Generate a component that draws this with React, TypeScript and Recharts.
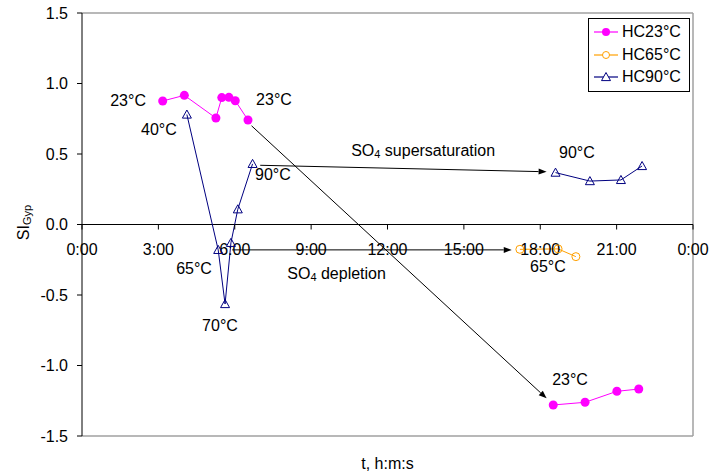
import React from 'react';
import { LineChart, Line, XAxis, YAxis, ReferenceLine, ReferenceDot } from 'recharts';

// time in hours, SI_Gyp values
const hc23Time = [3.17, 4.02, 5.26, 5.49, 5.77, 6.02, 6.52, 12, 18.51, 19.76, 21.01, 21.87];
const hc23Val = [0.876, 0.916, 0.755, 0.9, 0.902, 0.878, 0.741, null, -1.28, -1.261, -1.183, -1.167];
const hc65Time = [17.2, 18.7, 19.4];
const hc65Val = [-0.176, -0.173, -0.228];
const hc90Time = [4.12, 5.35, 5.62, 5.85, 6.12, 6.7, 12, 18.6, 19.95, 21.17, 22.0];
const hc90Val = [0.78, -0.18, -0.564, -0.13, 0.108, 0.43, null, 0.368, 0.308, 0.316, 0.415];

const xTicks = [0, 3, 6, 9, 12, 15, 18, 21, 24];
const xTickLabels = ['0:00', '3:00', '6:00', '9:00', '12:00', '15:00', '18:00', '21:00', '0:00'];
const yTicks = [-1.5, -1.0, -0.5, 0, 0.5, 1.0, 1.5];

const arrows = [
  { from: [6.66, 0.7], to: [18.25, -1.233] },
  { from: [7.0, 0.42], to: [18.25, 0.374] },
  { from: [5.9, -0.18], to: [16.88, -0.18] },
];

const tempLabels = [
  { t: 1.81, v: 0.876, text: '23°C' },
  { t: 3.02, v: 0.677, text: '40°C' },
  { t: 7.54, v: 0.883, text: '23°C' },
  { t: 7.5, v: 0.352, text: '90°C' },
  { t: 4.4, v: -0.309, text: '65°C' },
  { t: 5.42, v: -0.716, text: '70°C' },
  { t: 19.44, v: 0.514, text: '90°C' },
  { t: 18.3, v: -0.3, text: '65°C' },
  { t: 19.17, v: -1.1, text: '23°C' },
];

const noteLabels = [
  { t: 13.4, v: 0.528, main: 'SO', sub: '4', rest: ' supersaturation' },
  { t: 10.0, v: -0.344, main: 'SO', sub: '4', rest: ' depletion' },
];

const toRows = (ts: number[], vs: (number | null)[]) => ts.map((t, i) => ({ t, v: vs[i] }));
const hc23 = toRows(hc23Time, hc23Val);
const hc65 = toRows(hc65Time, hc65Val);
const hc90 = toRows(hc90Time, hc90Val);

const FONT = '"Liberation Sans", Arial, sans-serif';
const C23 = '#ff00ff';
const C65 = '#ffa000';
const C90 = '#000080';

const Triangle = (props: any) => {
  const { cx, cy, stroke } = props;
  if (cx == null || cy == null || props.payload?.v == null) return null;
  const h = 4.5;
  return (
    <path
      key={`tri-${cx}-${cy}`}
      d={`M${cx},${cy - h} L${cx + h},${cy + h * 0.8} L${cx - h},${cy + h * 0.8} Z`}
      fill="none"
      stroke={stroke}
      strokeWidth={1}
    />
  );
};

const legendItems = [
  { name: 'HC23°C', color: C23, marker: 'filled' },
  { name: 'HC65°C', color: C65, marker: 'open' },
  { name: 'HC90°C', color: C90, marker: 'tri' },
];

const LegendBox = () => (
  <div
    style={{
      position: 'absolute',
      left: 588,
      top: 18,
      border: '1px solid #000',
      background: '#fff',
      padding: '2px 4px 2px 5px',
      fontFamily: FONT,
      fontSize: 16,
      color: '#000',
      width: 91,
      lineHeight: 'normal',
    }}
  >
    {legendItems.map((it) => (
      <div key={it.name} style={{ display: 'flex', alignItems: 'center', height: 22.5 }}>
        <svg width={24} height={14} style={{ marginRight: 4 }}>
          <line x1={0} y1={7} x2={24} y2={7} stroke={it.color} strokeWidth={1.2} />
          {it.marker === 'filled' && <circle cx={12} cy={7} r={4} fill={it.color} />}
          {it.marker === 'open' && <circle cx={12} cy={7} r={3.5} fill="#fff" stroke={it.color} />}
          {it.marker === 'tri' && (
            <path d="M12,2.5 L16.5,10.6 L7.5,10.6 Z" fill="#fff" stroke={it.color} strokeWidth={1} />
          )}
        </svg>
        <span>{it.name}</span>
      </div>
    ))}
  </div>
);

const ArrowShape = (props: any) => {
  const { x1, y1, x2, y2 } = props;
  if ([x1, y1, x2, y2].some((n) => n == null || isNaN(n))) return null;
  const ang = Math.atan2(y2 - y1, x2 - x1);
  const L = 8;
  const W = 3;
  const bx = x2 - L * Math.cos(ang);
  const by = y2 - L * Math.sin(ang);
  const px = -Math.sin(ang) * W;
  const py = Math.cos(ang) * W;
  return (
    <g>
      <line x1={x1} y1={y1} x2={bx} y2={by} stroke="#000" strokeWidth={1} />
      <path d={`M${x2},${y2} L${bx + px},${by + py} L${bx - px},${by - py} Z`} fill="#000" />
    </g>
  );
};

const YLabel = (props: any) => {
  const { viewBox } = props;
  const cx = 23;
  const cy = viewBox.y + viewBox.height / 2 - 2;
  return (
    <text
      x={cx}
      y={cy}
      transform={`rotate(-90, ${cx}, ${cy})`}
      textAnchor="middle"
      dominantBaseline="central"
      fontFamily={FONT}
      fontSize={16}
      fill="#000"
    >
      SI
      <tspan fontSize={11} dy={4}>Gyp</tspan>
    </text>
  );
};

export default function App() {
  return (
    <div style={{ position: 'absolute', left: 0, top: 0, width: 709, height: 475, background: '#fff' }}>
      <LineChart
        width={709}
        height={475}
        margin={{ top: 13, right: 16, bottom: 0, left: 0 }}
        style={{ fontFamily: FONT }}
      >
        <XAxis
          type="number"
          dataKey="t"
          domain={[0, 24]}
          ticks={xTicks}
          tick={false}
          tickLine={false}
          axisLine={false}
          height={39}
          allowDataOverflow
          label={{ value: 't, h:m:s', position: 'insideBottom', offset: 6, fill: '#000', fontSize: 16, fontFamily: FONT }}
        />
        <YAxis
          type="number"
          domain={[-1.5, 1.5]}
          ticks={yTicks}
          width={82}
          tickSize={5}
          tickMargin={9}
          axisLine={{ stroke: '#000' }}
          tickLine={{ stroke: '#000' }}
          tick={{ fill: '#000', fontSize: 16, fontFamily: FONT }}
          tickFormatter={(v: number) => v.toFixed(1)}
          allowDataOverflow
          label={<YLabel />}
        />
        <ReferenceLine y={1.5} stroke="#a0a0a0" strokeWidth={1.5} />
        <ReferenceLine y={-1.5} stroke="#a0a0a0" strokeWidth={1.5} />
        <ReferenceLine x={24} stroke="#a0a0a0" strokeWidth={1.5} />
        <ReferenceLine y={0} stroke="#000" strokeWidth={1} />
        {xTicks.map((t, i) => (
          <ReferenceDot
            key={`xt-${i}`}
            x={t}
            y={0}
            r={0}
            shape={(p: any) => (
              <g>
                <line x1={p.cx} y1={p.cy} x2={p.cx} y2={p.cy + 5} stroke="#000" />
                <text
                  x={p.cx}
                  y={p.cy + 25}
                  textAnchor="middle"
                  dominantBaseline="central"
                  fontFamily={FONT}
                  fontSize={16}
                  fill="#000"
                >
                  {xTickLabels[i]}
                </text>
              </g>
            )}
          />
        ))}
        {arrows.map((a, i) => (
          <ReferenceLine
            key={`ar-${i}`}
            segment={[
              { x: a.from[0], y: a.from[1] },
              { x: a.to[0], y: a.to[1] },
            ]}
            shape={<ArrowShape />}
          />
        ))}
        {tempLabels.map((l, i) => (
          <ReferenceDot
            key={`tl-${i}`}
            x={l.t}
            y={l.v}
            r={0}
            shape={(p: any) => (
              <text
                x={p.cx}
                y={p.cy}
                textAnchor="middle"
                dominantBaseline="central"
                fontFamily={FONT}
                fontSize={16}
                fill="#000"
              >
                {l.text}
              </text>
            )}
          />
        ))}
        {noteLabels.map((l, i) => (
          <ReferenceDot
            key={`nl-${i}`}
            x={l.t}
            y={l.v}
            r={0}
            shape={(p: any) => (
              <text
                x={p.cx}
                y={p.cy}
                textAnchor="middle"
                dominantBaseline="central"
                fontFamily={FONT}
                fontSize={16}
                fill="#000"
              >
                {l.main}
                <tspan fontSize={11} dy={4}>{l.sub}</tspan>
                <tspan dy={-4}>{l.rest}</tspan>
              </text>
            )}
          />
        ))}
        <Line
          data={hc23}
          dataKey="v"
          name="HC23°C"
          stroke={C23}
          strokeWidth={1}
          dot={{ r: 4.5, fill: C23, stroke: C23, strokeWidth: 0 }}
          isAnimationActive={false}
        />
        <Line
          data={hc65}
          dataKey="v"
          name="HC65°C"
          stroke={C65}
          strokeWidth={1}
          dot={{ r: 4, fill: 'none', stroke: C65, strokeWidth: 1 }}
          isAnimationActive={false}
        />
        <Line
          data={hc90}
          dataKey="v"
          name="HC90°C"
          stroke={C90}
          strokeWidth={1}
          dot={<Triangle />}
          isAnimationActive={false}
        />
      </LineChart>
      <LegendBox />
    </div>
  );
}
